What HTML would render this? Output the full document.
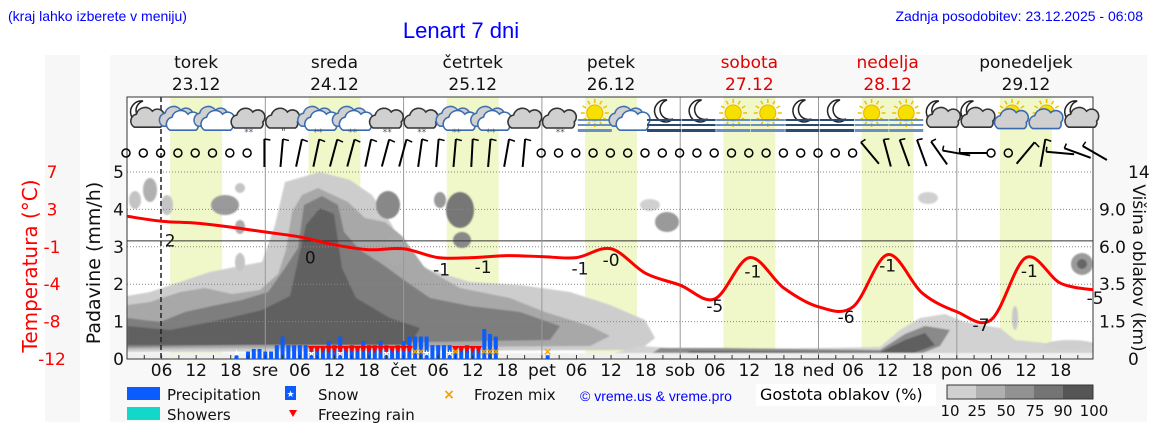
<!DOCTYPE html>
<html><head><meta charset="utf-8">
<style>
body{margin:0;background:#fff;width:1152px;height:443px;overflow:hidden;font-family:"DejaVu Sans","Liberation Sans",sans-serif;}
svg{display:block}
</style></head>
<body>
<svg id="chart" width="1152" height="443" viewBox="0 0 1152 443" xmlns="http://www.w3.org/2000/svg">
<defs><filter id="blur" x="-5%" y="-5%" width="110%" height="110%"><feGaussianBlur stdDeviation="0.8"/></filter>
<clipPath id="plotclip"><rect x="127" y="97" width="966" height="262"/></clipPath></defs>
<rect x="45" y="55" width="35" height="367" fill="#f7f7f7"/>
<rect x="110" y="55" width="1037" height="367" fill="#f8f8f8"/>
<text x="8" y="21" font-family="Liberation Sans, sans-serif" font-size="14" fill="#0000ff">(kraj lahko izberete v meniju)</text>
<text x="461" y="38" text-anchor="middle" font-family="Liberation Sans, sans-serif" font-size="22" fill="#0000ff">Lenart 7 dni</text>
<text x="1143" y="21" text-anchor="end" font-family="Liberation Sans, sans-serif" font-size="14" fill="#0000ff">Zadnja posodobitev: 23.12.2025 - 06:08</text>
<rect x="127" y="97" width="966" height="262" fill="#fff"/>
<g id="bands"></g>
<g id="clouds" filter="url(#blur)" clip-path="url(#plotclip)"></g>
<g id="grid"></g>
<g id="icons"></g>
<g id="wind"></g>
<g id="bars"></g>
<g id="temp" clip-path="url(#plotclip)"></g>
<g id="templabels"></g>
<g id="axes"></g>
<g id="legend"></g>
</svg>
<script>
const NS='http://www.w3.org/2000/svg';
const dayNames=['torek','sreda','četrtek','petek','sobota','nedelja','ponedeljek'];
const dayDates=['23.12','24.12','25.12','26.12','27.12','28.12','29.12'];
const dayRed=[false,false,false,false,true,true,false];
const xTickLabels=['06','12','18','sre','06','12','18','čet','06','12','18','pet','06','12','18','sob','06','12','18','ned','06','12','18','pon','06','12','18'];
const precipTicks=[0,1,2,3,4,5];
const tempTicks=['7','3','-1','-4','-8','-12'];
const cloudTicks=['14','9.0','6.0','3.5','1.5','0'];
// temperatures every 6 h from 23.12 00:00
const temps=[2.5,2.0,1.8,1.4,0.9,0.4,-0.4,-0.9,-0.8,-1.7,-1.7,-1.5,-1.6,-1.7,-0.8,-3.3,-4.5,-5.9,-1.7,-4.8,-6.7,-6.7,-1.4,-5.3,-7.2,-8.0,-1.7,-4.3,-5.0];
// [position in 6h steps, label, offset below line]
const tempLabels=[[1.25,'2',25],[5.3,'0',24],[9.1,'-1',18],[10.3,'-1',16],[13.1,'-1',18],[14.0,'-0',17],[17.0,'-5',13],[18.1,'-1',17],[20.8,'-6',16],[22.0,'-1',17],[24.7,'-7',14],[26.1,'-1',17],[28,'-5',14]];
// hourly precipitation (mm/h) from hour 19
const precipStart=19;
const precip=[0.1,0,0.2,0.27,0.27,0.2,0.2,0.37,0.6,0.37,0.37,0.37,0.37,0.25,0.27,0.27,0.48,0.37,0.6,0.25,0.37,0.27,0.48,0.37,0.37,0.48,0.37,0.27,0.37,0.48,0.6,0.6,0.6,0.6,0.37,0.37,0.37,0.37,0.27,0.27,0.37,0.27,0.27,0.8,0.67,0.6];
const snowHours=[19,32,37,45,52,56];
const freezingHours=[32,33,34,35,36,37,38,39,40,41,42,43,44,45,46,47,48,49,57,58,59,60,61];
const mixHours=[50,51,57,62,63,64,73];
const mixPrecip=[[73,0.1]];
const iconTypes=['moonc','bc','bc','gcs','gcr','bcs','bcs','gcs','gcs','bcs','bcs','gc','gcs','sf','bc','mf','mf','sf','sf','mf','mf','sf','sf','mc','mc','sc','sc','mc'];
// wind staff tilt in degrees per 3 h, null = calm
const wind=[null,null,null,null,null,null,null,null,0,5,12,12,15,15,12,15,15,8,5,5,3,5,10,5,null,null,null,null,null,null,null,null,null,null,null,null,null,null,null,null,null,null,null,-40,-15,-20,-20,-35,-80,-90,null,null,40,10,-85,-70,-60];

const X0=127, DAY=138.3, HOUR=DAY/24;
const xh=h=>X0+h*HOUR;
const yP=v=>359-v*37.4;
const yT=t=>172+(7-t)*9.84;
function el(parent,tag,attrs,name,text){const e=document.createElementNS(NS,tag);for(const k in attrs)e.setAttribute(k,attrs[k]);


if(text!==undefined)e.textContent=text;document.getElementById(parent).appendChild(e);return e;}

// daylight bands
for(let d=0;d<7;d++){el('bands','rect',{x:xh(d*24+7.5),y:97,width:HOUR*9,height:262,fill:'#f0f7c8'},'daylight-band');}

// clouds
const cloudPolys=[
['#cdcdcd','127,296 150,292 180,282 210,272 240,266 262,262 275,225 285,182 320,172 350,180 372,195 392,225 405,255 430,270 470,282 520,285 570,292 610,305 645,320 655,338 640,350 127,352'],
['#a8a8a8','127,305 150,302 180,292 205,288 232,294 260,290 278,274 286,250 292,212 302,195 318,188 333,195 348,202 365,218 385,222 402,236 425,268 460,288 510,298 545,312 590,326 610,336 590,346 127,349'],
['#7e7e7e','127,318 160,322 185,312 212,306 242,300 268,292 285,268 298,248 304,205 322,196 338,205 344,232 360,250 382,264 404,280 430,298 470,306 520,312 560,326 550,340 127,347'],
['#606060','127,326 170,330 220,320 262,310 290,296 306,225 320,208 334,214 342,268 356,298 390,318 420,328 410,345 127,345'],
['#d2d2d2','600,357 640,346 700,350 880,347 900,330 920,318 945,314 965,322 1000,328 1015,340 1093,348 1093,358 600,358'],
['#8a8a8a','645,358 660,348 720,348 880,350 905,334 925,326 950,330 940,346 910,358'],
['#5e5e5e','680,358 690,351 880,352 905,340 925,333 935,345 900,358']
];
cloudPolys.forEach(p=>el('clouds','polygon',{points:p[1],fill:p[0]},'cloud-density-area'));
const blobs=[[135,200,6,9,'#c4c4c4'],[150,190,7,12,'#b0b0b0'],[167,205,6,10,'#c4c4c4'],[225,205,14,10,'#9a9a9a'],[240,188,5,5,'#c4c4c4'],[240,227,5,7,'#aaa'],[240,262,5,9,'#c4c4c4'],[388,205,12,14,'#888'],[395,250,10,15,'#aaa'],[460,210,14,18,'#777'],[462,240,9,8,'#888'],[440,200,6,8,'#999'],[650,205,10,6,'#d0d0d0'],[667,222,12,10,'#9a9a9a'],[928,198,10,6,'#d0d0d0'],[1082,264,11,11,'#9a9a9a'],[1082,264,5,5,'#666'],[1015,318,3,12,'#c8c8c8'],[1070,345,25,5,'#cfcfcf']];
blobs.forEach(b=>el('clouds','ellipse',{cx:b[0],cy:b[1],rx:b[2],ry:b[3],fill:b[4]},'cloud-density-blob'));
el('clouds','rect',{x:127,y:353,width:966,height:6,fill:'#f0f0f0'},'cloud-bottom-strip');

// grid
[1,2,3,4,5].forEach(v=>el('grid','line',{x1:127,x2:1093,y1:yP(v),y2:yP(v),stroke:'#888','stroke-dasharray':'1,2','stroke-width':1},'grid-line'));
el('grid','line',{x1:127,x2:1093,y1:yT(0),y2:yT(0),stroke:'#333','stroke-width':1},'zero-temp-line');
for(let d=1;d<7;d++)el('grid','line',{x1:xh(d*24),x2:xh(d*24),y1:97,y2:359,stroke:'#999','stroke-width':1},'midnight-line');
el('grid','line',{x1:161,x2:161,y1:97,y2:359,stroke:'#222','stroke-width':1.5,'stroke-dasharray':'5,3'},'now-line');
el('grid','rect',{x:127,y:97,width:966,height:262,fill:'none',stroke:'#333','stroke-width':1},'plot-border');

// icons
function cloud(cx,cy,fill,stroke,s){return `<path d="M${cx-14*s},${cy+8*s} a7,7 0 0 1 2,-13 a9,9 0 0 1 16,-3 a7,7 0 0 1 10,10 a5,5 0 0 1 -2,6 z" fill="${fill}" stroke="${stroke}" stroke-width="1.6"/>`;}
function sun(cx,cy,r){let s=`<circle cx="${cx}" cy="${cy}" r="${r}" fill="#f5e000" stroke="#f0b000"/>`;for(let a=0;a<360;a+=30){const c=Math.cos(a*Math.PI/180),si=Math.sin(a*Math.PI/180);s+=`<line x1="${cx+c*(r+2)}" y1="${cy+si*(r+2)}" x2="${cx+c*(r+6)}" y2="${cy+si*(r+6)}" stroke="#f0c000" stroke-width="1.5"/>`;}return s;}
function moon(cx,cy){return `<path d="M${cx+3},${cy-12} a11,11 0 1 0 6,19 a9,9 0 0 1 -6,-19 z" fill="#fff" stroke="#222" stroke-width="1.5"/>`;}
function fog(cx,cy,col){return `<rect x="${cx-17}" y="${cy}" width="34" height="2" fill="${col}"/><rect x="${cx-17}" y="${cy+5}" width="34" height="2" fill="${col}"/><rect x="${cx-17}" y="${cy+10}" width="34" height="3" fill="${col}"/>`;}
iconTypes.forEach((t,i)=>{
 const cx=145+34.6*i, cy=115; let s='';
 if(t==='moonc'||t==='mc'){s+=moon(cx-5,cy-2)+cloud(cx+2,cy+5,'#d0d0d0','#333',0.9);}
 else if(t==='bc'||t==='bcs'){s+=cloud(cx-4,cy+4,'#d0d0d0','#4070b0',0.9)+cloud(cx+3,cy+8,'#fff','#3a6ab0',0.9);}
 else if(t.startsWith('gc')){s+=cloud(cx,cy+5,'#d0d0d0','#333',1);}
 else if(t==='sf'){s+=sun(cx,cy-2,8)+fog(cx,cy+4,'#6a90c0');}
 else if(t==='mf'){s+=moon(cx,cy-3)+fog(cx,cy+4,'#2a4a70');}
 else if(t==='sc'){s+=sun(cx+2,cy-2,8)+cloud(cx-2,cy+8,'#d0d0d0','#3a6ab0',0.7);}
 if(t.endsWith('s'))s+=`<text x="${cx}" y="${cy+20}" font-size="9" fill="#456" text-anchor="middle">**</text>`;
 if(t==='gcr')s+=`<text x="${cx}" y="${cy+20}" font-size="9" fill="#345" text-anchor="middle" font-style="italic">"</text>`;
 const g=el('icons','g',{},'weather-icon');g.innerHTML=s;
});

// wind
wind.forEach((a,j)=>{
 const x=126+17.3*j, y=153;
 if(a===null){el('wind','circle',{cx:x,cy:y,r:4,fill:'none',stroke:'#000','stroke-width':1.5},'wind-calm');return;}
 const r=a*Math.PI/180, L=14, dx=Math.sin(r)*L, dy=Math.cos(r)*L;
 const g=el('wind','g',{},'wind-barb');
 g.innerHTML=`<line x1="${x-dx}" y1="${y+dy}" x2="${x+dx}" y2="${y-dy}" stroke="#000" stroke-width="2"/><line x1="${x+dx}" y1="${y-dy}" x2="${x+dx+Math.cos(r)*6}" y2="${y-dy+Math.sin(r)*6+1}" stroke="#000" stroke-width="1.5"/>`;
});

// precipitation
precip.forEach((v,i)=>{const h=precipStart+i;if(v<=0)return;
 el('bars','rect',{x:xh(h)-2,y:yP(v),width:4,height:359-yP(v),fill:'#0b5cff'},'precip-bar');});
mixPrecip.forEach(p=>el('bars','rect',{x:xh(p[0])-2,y:yP(p[1]),width:4,height:359-yP(p[1]),fill:'#0b5cff'},'precip-bar'));
snowHours.forEach(h=>el('bars','text',{x:xh(h),y:356,'font-size':9,fill:'#fff','text-anchor':'middle'},'snow-marker','★'));
freezingHours.forEach(h=>el('bars','polygon',{points:`${xh(h)-3.5},346 ${xh(h)+3.5},346 ${xh(h)},353`,fill:'#ff0000'},'freezing-rain-marker'));
mixHours.forEach(h=>el('bars','text',{x:xh(h),y:355,'font-size':11,fill:'#f5a000','text-anchor':'middle','font-weight':'bold'},'frozen-mix-marker','×'));

// temperature line (Catmull-Rom)
const pts=temps.map((t,i)=>[X0+i*6*HOUR,yT(t)]);
let d=`M${pts[0][0]},${pts[0][1]}`;
for(let i=0;i<pts.length-1;i++){const p0=pts[Math.max(0,i-1)],p1=pts[i],p2=pts[i+1],p3=pts[Math.min(pts.length-1,i+2)];
 d+=` C${p1[0]+(p2[0]-p0[0])/6},${p1[1]+(p2[1]-p0[1])/6} ${p2[0]-(p3[0]-p1[0])/6},${p2[1]-(p3[1]-p1[1])/6} ${p2[0]},${p2[1]}`;}
el('temp','path',{d:d,fill:'none',stroke:'#ff0000','stroke-width':3},'temperature-line');
tempLabels.forEach(l=>{const p=l[0],i0=Math.min(temps.length-2,Math.floor(p)),f=p-i0;
 const t=temps[i0]*(1-f)+temps[i0+1]*f;
 el('templabels','text',{x:X0+p*6*HOUR,y:yT(t)+l[2],'font-size':17,'text-anchor':'middle',fill:'#111'},'temperature-value-label',l[1]);});

// axes
for(let h=3;h<168;h+=3){el('axes','line',{x1:xh(h),x2:xh(h),y1:359,y2:355,stroke:'#333'},'x-tick');}
xTickLabels.forEach((t,i)=>el('axes','text',{x:xh((i+1)*6),y:376,'font-size':17,'text-anchor':'middle',fill:'#111'},'x-tick-label',t));
for(let dd=0;dd<7;dd++){const x=xh(dd*24+12);const c=dayRed[dd]?'#e00000':'#111';
 el('axes','text',{x:x,y:68,'font-size':17,'text-anchor':'middle',fill:c},'day-name',dayNames[dd]);
 el('axes','text',{x:x,y:90,'font-size':17,'text-anchor':'middle',fill:c},'day-date',dayDates[dd]);}
precipTicks.forEach(v=>el('axes','text',{x:124,y:yP(v)+6,'font-size':17,'text-anchor':'end',fill:'#111'},'precip-tick-label',String(v)));
tempTicks.forEach((t,i)=>el('axes','text',{x:52,y:178+i*37.4,'font-size':17,'text-anchor':'middle',fill:'#ff0000'},'temp-tick-label',t));
cloudTicks.forEach((t,i)=>{const edge=(i===0||i===cloudTicks.length-1);
 el('axes','text',{x:edge?1128:1126,y:178+i*37.4,'font-size':17,'text-anchor':edge?'start':'end',fill:'#111'},'cloud-height-tick-label',t);});
el('axes','text',{x:0,y:0,'font-size':19,'text-anchor':'middle',fill:'#111',transform:'translate(100,263) rotate(-90)'},'precip-axis-title','Padavine (mm/h)');
el('axes','text',{x:0,y:0,'font-size':20,'text-anchor':'middle',fill:'#ff0000',transform:'translate(37,266) rotate(-90)'},'temp-axis-title','Temperatura (°C)');
el('axes','text',{x:0,y:0,'font-size':17,'text-anchor':'middle',fill:'#111',transform:'translate(1133,268) rotate(90)'},'cloud-height-axis-title','Višina oblakov (km)');

// legend
const L=document.getElementById('legend');
L.innerHTML=`
<rect x="127" y="387" width="33" height="13" fill="#0b5cff"/>
<text x="167" y="400" font-size="15" fill="#111">Precipitation</text>
<rect x="127" y="407" width="33" height="13" fill="#11d8c8"/>
<text x="167" y="420" font-size="15" fill="#111">Showers</text>
<rect x="285" y="386" width="11" height="14" fill="#0b5cff"/>
<text x="290.5" y="397" font-size="9" fill="#fff" text-anchor="middle">★</text>
<text x="318" y="400" font-size="15" fill="#111">Snow</text>
<polygon points="289,410 297,410 293,417" fill="#ff0000"/>
<text x="318" y="420" font-size="15" fill="#111">Freezing rain</text>
<text x="449" y="399" font-size="14" fill="#f5a000" text-anchor="middle" font-weight="bold">×</text>
<text x="474" y="400" font-size="15" fill="#111">Frozen mix</text>
<text x="580" y="401" font-size="14" fill="#0000ff" font-family="Liberation Sans, sans-serif">© vreme.us &amp; vreme.pro</text>
<rect x="756" y="384" width="180" height="22" fill="#fff"/>
<text x="760" y="400" font-size="16" fill="#000">Gostota oblakov (%)</text>
<rect x="947" y="385" width="29" height="14" fill="#d0d0d0"/>
<rect x="976" y="385" width="29" height="14" fill="#b0b0b0"/>
<rect x="1005" y="385" width="29" height="14" fill="#929292"/>
<rect x="1034" y="385" width="29" height="14" fill="#747474"/>
<rect x="1063" y="385" width="30" height="14" fill="#555"/>
<rect x="947" y="385" width="146" height="14" fill="none" stroke="#333"/>
<text x="950" y="416" font-size="15" fill="#111" text-anchor="middle">10</text>
<text x="977" y="416" font-size="15" fill="#111" text-anchor="middle">25</text>
<text x="1006" y="416" font-size="15" fill="#111" text-anchor="middle">50</text>
<text x="1035" y="416" font-size="15" fill="#111" text-anchor="middle">75</text>
<text x="1063" y="416" font-size="15" fill="#111" text-anchor="middle">90</text>
<text x="1094" y="416" font-size="15" fill="#111" text-anchor="middle">100</text>`;
</script>
</body></html>
